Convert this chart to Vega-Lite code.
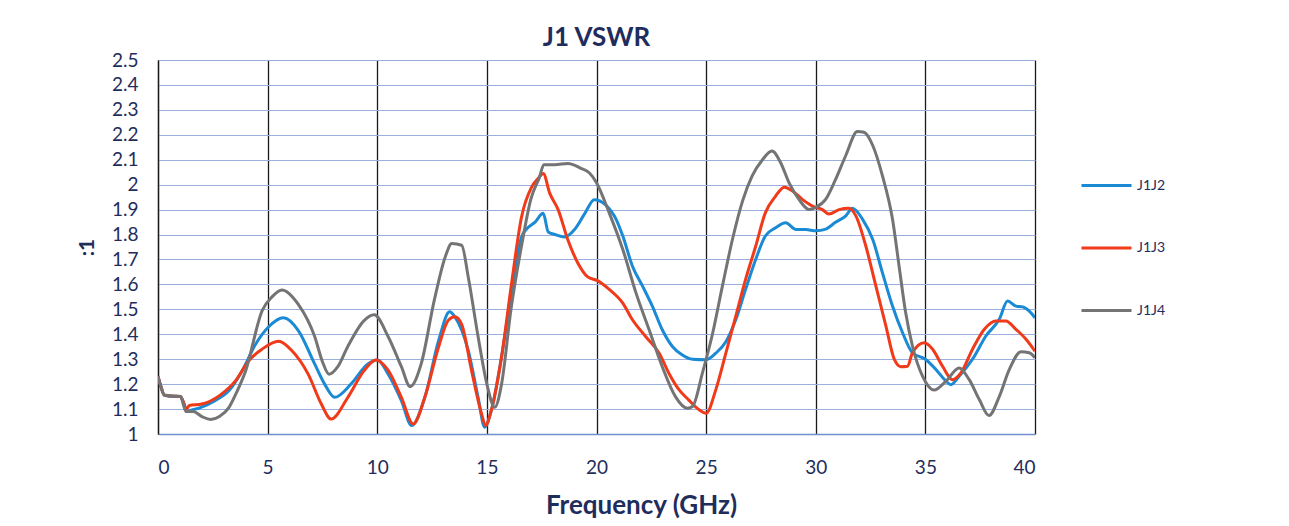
{
  "$schema": "https://vega.github.io/schema/vega-lite/v6.json",
  "width": 877,
  "height": 374,
  "autosize": {"type": "none"},
  "padding": {"left": 158, "top": 60, "right": 254, "bottom": 92},
  "background": "white",
  "title": {"text": "J1 VSWR", "fontSize": 26, "font": "Lato", "fontWeight": "bold", "color": "#1f2d5c", "offset": 0},
  "config": {
    "view": {"stroke": null},
    "font": "Lato"
  },
  "data": {"values": [
    {"f":0,"v":1.23,"s":"J1J2"},{"f":0.1,"v":1.2,"s":"J1J2"},{"f":0.3,"v":1.155,"s":"J1J2"},{"f":0.7,"v":1.15,"s":"J1J2"},{"f":1.0,"v":1.15,"s":"J1J2"},{"f":1.15,"v":1.13,"s":"J1J2"},{"f":1.3,"v":1.09,"s":"J1J2"},{"f":1.5,"v":1.095,"s":"J1J2"},{"f":1.9,"v":1.105,"s":"J1J2"},{"f":2.6,"v":1.134,"s":"J1J2"},{"f":3.24,"v":1.174,"s":"J1J2"},{"f":3.84,"v":1.254,"s":"J1J2"},{"f":4.45,"v":1.36,"s":"J1J2"},{"f":5.05,"v":1.43,"s":"J1J2"},{"f":5.72,"v":1.466,"s":"J1J2"},{"f":6.4,"v":1.415,"s":"J1J2"},{"f":7.15,"v":1.28,"s":"J1J2"},{"f":7.6,"v":1.2,"s":"J1J2"},{"f":8.06,"v":1.147,"s":"J1J2"},{"f":8.8,"v":1.2,"s":"J1J2"},{"f":9.56,"v":1.28,"s":"J1J2"},{"f":10.0,"v":1.297,"s":"J1J2"},{"f":10.5,"v":1.24,"s":"J1J2"},{"f":11.1,"v":1.134,"s":"J1J2"},{"f":11.57,"v":1.034,"s":"J1J2"},{"f":12.17,"v":1.147,"s":"J1J2"},{"f":12.8,"v":1.375,"s":"J1J2"},{"f":13.3,"v":1.49,"s":"J1J2"},{"f":13.54,"v":1.47,"s":"J1J2"},{"f":14.15,"v":1.335,"s":"J1J2"},{"f":14.6,"v":1.147,"s":"J1J2"},{"f":14.9,"v":1.027,"s":"J1J2"},{"f":15.2,"v":1.094,"s":"J1J2"},{"f":15.67,"v":1.31,"s":"J1J2"},{"f":16.12,"v":1.57,"s":"J1J2"},{"f":16.58,"v":1.79,"s":"J1J2"},{"f":16.9,"v":1.83,"s":"J1J2"},{"f":17.2,"v":1.85,"s":"J1J2"},{"f":17.57,"v":1.885,"s":"J1J2"},{"f":17.8,"v":1.81,"s":"J1J2"},{"f":18.1,"v":1.8,"s":"J1J2"},{"f":18.55,"v":1.79,"s":"J1J2"},{"f":19.0,"v":1.82,"s":"J1J2"},{"f":19.47,"v":1.885,"s":"J1J2"},{"f":19.9,"v":1.94,"s":"J1J2"},{"f":20.4,"v":1.92,"s":"J1J2"},{"f":20.9,"v":1.86,"s":"J1J2"},{"f":21.2,"v":1.794,"s":"J1J2"},{"f":21.64,"v":1.673,"s":"J1J2"},{"f":22.1,"v":1.593,"s":"J1J2"},{"f":22.55,"v":1.512,"s":"J1J2"},{"f":23.0,"v":1.418,"s":"J1J2"},{"f":23.47,"v":1.35,"s":"J1J2"},{"f":23.9,"v":1.318,"s":"J1J2"},{"f":24.38,"v":1.3,"s":"J1J2"},{"f":25.0,"v":1.298,"s":"J1J2"},{"f":25.44,"v":1.324,"s":"J1J2"},{"f":25.9,"v":1.37,"s":"J1J2"},{"f":26.35,"v":1.458,"s":"J1J2"},{"f":26.8,"v":1.58,"s":"J1J2"},{"f":27.26,"v":1.7,"s":"J1J2"},{"f":27.7,"v":1.794,"s":"J1J2"},{"f":28.17,"v":1.827,"s":"J1J2"},{"f":28.63,"v":1.847,"s":"J1J2"},{"f":29.1,"v":1.82,"s":"J1J2"},{"f":29.55,"v":1.82,"s":"J1J2"},{"f":30.0,"v":1.815,"s":"J1J2"},{"f":30.46,"v":1.822,"s":"J1J2"},{"f":30.9,"v":1.849,"s":"J1J2"},{"f":31.37,"v":1.875,"s":"J1J2"},{"f":31.67,"v":1.905,"s":"J1J2"},{"f":32.13,"v":1.862,"s":"J1J2"},{"f":32.6,"v":1.78,"s":"J1J2"},{"f":33.04,"v":1.647,"s":"J1J2"},{"f":33.5,"v":1.513,"s":"J1J2"},{"f":33.96,"v":1.406,"s":"J1J2"},{"f":34.41,"v":1.326,"s":"J1J2"},{"f":35.0,"v":1.3,"s":"J1J2"},{"f":35.48,"v":1.259,"s":"J1J2"},{"f":35.94,"v":1.212,"s":"J1J2"},{"f":36.16,"v":1.198,"s":"J1J2"},{"f":36.54,"v":1.232,"s":"J1J2"},{"f":37.15,"v":1.3,"s":"J1J2"},{"f":37.76,"v":1.393,"s":"J1J2"},{"f":38.37,"v":1.46,"s":"J1J2"},{"f":38.75,"v":1.533,"s":"J1J2"},{"f":39.13,"v":1.513,"s":"J1J2"},{"f":39.44,"v":1.51,"s":"J1J2"},{"f":39.74,"v":1.493,"s":"J1J2"},{"f":40.0,"v":1.466,"s":"J1J2"},

    {"f":0,"v":1.23,"s":"J1J3"},{"f":0.1,"v":1.2,"s":"J1J3"},{"f":0.3,"v":1.155,"s":"J1J3"},{"f":1.0,"v":1.15,"s":"J1J3"},{"f":1.15,"v":1.13,"s":"J1J3"},{"f":1.3,"v":1.1,"s":"J1J3"},{"f":1.43,"v":1.114,"s":"J1J3"},{"f":2.0,"v":1.12,"s":"J1J3"},{"f":2.8,"v":1.154,"s":"J1J3"},{"f":3.54,"v":1.214,"s":"J1J3"},{"f":4.14,"v":1.294,"s":"J1J3"},{"f":4.74,"v":1.34,"s":"J1J3"},{"f":5.5,"v":1.372,"s":"J1J3"},{"f":6.1,"v":1.335,"s":"J1J3"},{"f":6.85,"v":1.24,"s":"J1J3"},{"f":7.45,"v":1.12,"s":"J1J3"},{"f":7.9,"v":1.06,"s":"J1J3"},{"f":8.66,"v":1.147,"s":"J1J3"},{"f":9.4,"v":1.254,"s":"J1J3"},{"f":9.94,"v":1.297,"s":"J1J3"},{"f":10.5,"v":1.255,"s":"J1J3"},{"f":11.1,"v":1.147,"s":"J1J3"},{"f":11.64,"v":1.04,"s":"J1J3"},{"f":12.17,"v":1.147,"s":"J1J3"},{"f":12.8,"v":1.35,"s":"J1J3"},{"f":13.24,"v":1.456,"s":"J1J3"},{"f":13.54,"v":1.47,"s":"J1J3"},{"f":13.85,"v":1.44,"s":"J1J3"},{"f":14.3,"v":1.255,"s":"J1J3"},{"f":14.76,"v":1.08,"s":"J1J3"},{"f":14.94,"v":1.034,"s":"J1J3"},{"f":15.2,"v":1.094,"s":"J1J3"},{"f":15.67,"v":1.31,"s":"J1J3"},{"f":16.12,"v":1.6,"s":"J1J3"},{"f":16.58,"v":1.87,"s":"J1J3"},{"f":17.04,"v":1.99,"s":"J1J3"},{"f":17.34,"v":2.025,"s":"J1J3"},{"f":17.57,"v":2.045,"s":"J1J3"},{"f":17.87,"v":1.965,"s":"J1J3"},{"f":18.25,"v":1.9,"s":"J1J3"},{"f":18.7,"v":1.777,"s":"J1J3"},{"f":19.16,"v":1.684,"s":"J1J3"},{"f":19.6,"v":1.63,"s":"J1J3"},{"f":20.05,"v":1.615,"s":"J1J3"},{"f":20.58,"v":1.58,"s":"J1J3"},{"f":21.2,"v":1.525,"s":"J1J3"},{"f":21.64,"v":1.458,"s":"J1J3"},{"f":22.25,"v":1.39,"s":"J1J3"},{"f":22.86,"v":1.324,"s":"J1J3"},{"f":23.3,"v":1.244,"s":"J1J3"},{"f":23.77,"v":1.177,"s":"J1J3"},{"f":24.2,"v":1.137,"s":"J1J3"},{"f":24.68,"v":1.097,"s":"J1J3"},{"f":25.0,"v":1.083,"s":"J1J3"},{"f":25.44,"v":1.177,"s":"J1J3"},{"f":25.9,"v":1.324,"s":"J1J3"},{"f":26.35,"v":1.472,"s":"J1J3"},{"f":26.8,"v":1.62,"s":"J1J3"},{"f":27.26,"v":1.753,"s":"J1J3"},{"f":27.7,"v":1.887,"s":"J1J3"},{"f":28.17,"v":1.954,"s":"J1J3"},{"f":28.56,"v":1.99,"s":"J1J3"},{"f":28.94,"v":1.975,"s":"J1J3"},{"f":29.4,"v":1.94,"s":"J1J3"},{"f":29.85,"v":1.914,"s":"J1J3"},{"f":30.3,"v":1.9,"s":"J1J3"},{"f":30.6,"v":1.882,"s":"J1J3"},{"f":31.07,"v":1.9,"s":"J1J3"},{"f":31.5,"v":1.905,"s":"J1J3"},{"f":31.83,"v":1.875,"s":"J1J3"},{"f":32.28,"v":1.755,"s":"J1J3"},{"f":32.74,"v":1.594,"s":"J1J3"},{"f":33.2,"v":1.433,"s":"J1J3"},{"f":33.58,"v":1.3,"s":"J1J3"},{"f":33.88,"v":1.27,"s":"J1J3"},{"f":34.19,"v":1.272,"s":"J1J3"},{"f":34.41,"v":1.326,"s":"J1J3"},{"f":34.95,"v":1.366,"s":"J1J3"},{"f":35.33,"v":1.34,"s":"J1J3"},{"f":35.78,"v":1.272,"s":"J1J3"},{"f":36.24,"v":1.218,"s":"J1J3"},{"f":36.62,"v":1.245,"s":"J1J3"},{"f":37.15,"v":1.34,"s":"J1J3"},{"f":37.69,"v":1.42,"s":"J1J3"},{"f":38.22,"v":1.453,"s":"J1J3"},{"f":38.67,"v":1.453,"s":"J1J3"},{"f":39.13,"v":1.42,"s":"J1J3"},{"f":39.59,"v":1.38,"s":"J1J3"},{"f":40.0,"v":1.332,"s":"J1J3"},

    {"f":0,"v":1.23,"s":"J1J4"},{"f":0.1,"v":1.2,"s":"J1J4"},{"f":0.3,"v":1.155,"s":"J1J4"},{"f":1.05,"v":1.15,"s":"J1J4"},{"f":1.15,"v":1.12,"s":"J1J4"},{"f":1.28,"v":1.09,"s":"J1J4"},{"f":1.6,"v":1.09,"s":"J1J4"},{"f":2.0,"v":1.07,"s":"J1J4"},{"f":2.4,"v":1.058,"s":"J1J4"},{"f":2.8,"v":1.07,"s":"J1J4"},{"f":3.24,"v":1.107,"s":"J1J4"},{"f":3.6,"v":1.17,"s":"J1J4"},{"f":4.0,"v":1.254,"s":"J1J4"},{"f":4.75,"v":1.495,"s":"J1J4"},{"f":5.2,"v":1.55,"s":"J1J4"},{"f":5.65,"v":1.578,"s":"J1J4"},{"f":6.4,"v":1.52,"s":"J1J4"},{"f":7.15,"v":1.39,"s":"J1J4"},{"f":7.5,"v":1.29,"s":"J1J4"},{"f":7.8,"v":1.24,"s":"J1J4"},{"f":8.2,"v":1.27,"s":"J1J4"},{"f":8.65,"v":1.35,"s":"J1J4"},{"f":9.4,"v":1.455,"s":"J1J4"},{"f":9.86,"v":1.478,"s":"J1J4"},{"f":10.5,"v":1.39,"s":"J1J4"},{"f":11.1,"v":1.27,"s":"J1J4"},{"f":11.5,"v":1.19,"s":"J1J4"},{"f":12.0,"v":1.28,"s":"J1J4"},{"f":12.6,"v":1.536,"s":"J1J4"},{"f":13.1,"v":1.71,"s":"J1J4"},{"f":13.4,"v":1.764,"s":"J1J4"},{"f":13.85,"v":1.757,"s":"J1J4"},{"f":14.15,"v":1.63,"s":"J1J4"},{"f":14.6,"v":1.39,"s":"J1J4"},{"f":15.0,"v":1.2,"s":"J1J4"},{"f":15.36,"v":1.107,"s":"J1J4"},{"f":15.67,"v":1.2,"s":"J1J4"},{"f":16.1,"v":1.5,"s":"J1J4"},{"f":16.6,"v":1.764,"s":"J1J4"},{"f":17.0,"v":1.94,"s":"J1J4"},{"f":17.4,"v":2.03,"s":"J1J4"},{"f":17.6,"v":2.08,"s":"J1J4"},{"f":18.1,"v":2.08,"s":"J1J4"},{"f":18.7,"v":2.085,"s":"J1J4"},{"f":19.3,"v":2.065,"s":"J1J4"},{"f":19.67,"v":2.048,"s":"J1J4"},{"f":20.0,"v":2.008,"s":"J1J4"},{"f":20.58,"v":1.887,"s":"J1J4"},{"f":21.2,"v":1.74,"s":"J1J4"},{"f":21.8,"v":1.566,"s":"J1J4"},{"f":22.4,"v":1.418,"s":"J1J4"},{"f":23.0,"v":1.27,"s":"J1J4"},{"f":23.6,"v":1.15,"s":"J1J4"},{"f":24.15,"v":1.103,"s":"J1J4"},{"f":24.38,"v":1.11,"s":"J1J4"},{"f":24.83,"v":1.244,"s":"J1J4"},{"f":25.3,"v":1.405,"s":"J1J4"},{"f":25.74,"v":1.592,"s":"J1J4"},{"f":26.2,"v":1.78,"s":"J1J4"},{"f":26.66,"v":1.934,"s":"J1J4"},{"f":27.1,"v":2.035,"s":"J1J4"},{"f":27.57,"v":2.1,"s":"J1J4"},{"f":28.0,"v":2.135,"s":"J1J4"},{"f":28.4,"v":2.088,"s":"J1J4"},{"f":28.78,"v":2.008,"s":"J1J4"},{"f":29.24,"v":1.94,"s":"J1J4"},{"f":29.7,"v":1.9,"s":"J1J4"},{"f":30.0,"v":1.909,"s":"J1J4"},{"f":30.46,"v":1.942,"s":"J1J4"},{"f":30.9,"v":2.02,"s":"J1J4"},{"f":31.37,"v":2.117,"s":"J1J4"},{"f":31.9,"v":2.213,"s":"J1J4"},{"f":32.2,"v":2.21,"s":"J1J4"},{"f":32.6,"v":2.157,"s":"J1J4"},{"f":33.04,"v":2.036,"s":"J1J4"},{"f":33.5,"v":1.862,"s":"J1J4"},{"f":33.8,"v":1.674,"s":"J1J4"},{"f":34.1,"v":1.487,"s":"J1J4"},{"f":34.41,"v":1.353,"s":"J1J4"},{"f":34.87,"v":1.232,"s":"J1J4"},{"f":35.4,"v":1.176,"s":"J1J4"},{"f":35.94,"v":1.212,"s":"J1J4"},{"f":36.54,"v":1.265,"s":"J1J4"},{"f":37.0,"v":1.218,"s":"J1J4"},{"f":37.46,"v":1.138,"s":"J1J4"},{"f":37.9,"v":1.074,"s":"J1J4"},{"f":38.37,"v":1.15,"s":"J1J4"},{"f":38.83,"v":1.259,"s":"J1J4"},{"f":39.36,"v":1.33,"s":"J1J4"},{"f":39.74,"v":1.326,"s":"J1J4"},{"f":40.0,"v":1.306,"s":"J1J4"}
  ]},
  "mark": {"type": "line", "strokeWidth": 3, "interpolate": "monotone", "clip": true},
  "encoding": {
    "x": {
      "field": "f", "type": "quantitative",
      "scale": {"domain": [0, 40], "nice": false, "zero": false},
      "axis": {
        "values": [0,5,10,15,20,25,30,35,40],
        "title": "Frequency (GHz)",
        "titleFont": "Lato", "titleFontSize": 26, "titleFontWeight": "bold", "titleColor": "#1f2d5c", "titlePadding": 15,
        "titleX": 483,
        "labelFont": "Lato", "labelFontSize": 19, "labelColor": "#1f2d5c", "labelPadding": 24,
        "ticks": false,
        "domainColor": "#6f8fcf", "domainWidth": 1.5,
        "grid": true, "gridColor": "#1a1a1a", "gridWidth": 1.3
      }
    },
    "y": {
      "field": "v", "type": "quantitative",
      "scale": {"domain": [1, 2.5], "nice": false, "zero": false},
      "axis": {
        "values": [1,1.1,1.2,1.3,1.4,1.5,1.6,1.7,1.8,1.9,2,2.1,2.2,2.3,2.4,2.5],
        "format": ".2~f",
        "title": ":1",
        "titleFont": "Lato", "titleFontSize": 21, "titleFontWeight": "bold", "titleColor": "#1f2d5c", "titlePadding": 14,
        "labelFont": "Lato", "labelFontSize": 19, "labelColor": "#1f2d5c", "labelPadding": 20,
        "ticks": false,
        "domainColor": "#1a1a1a", "domainWidth": 1.3,
        "grid": true, "gridColor": "#9aafdc", "gridWidth": 1.2
      }
    },
    "color": {
      "field": "s", "type": "nominal",
      "scale": {"domain": ["J1J2", "J1J3", "J1J4"], "range": ["#1a8ad4", "#f03a1a", "#747474"]},
      "legend": {
        "title": null, "orient": "none", "legendX": 922, "legendY": 99,
        "symbolType": "stroke", "symbolSize": 2500, "symbolStrokeWidth": 3,
        "labelFont": "Lato", "labelFontSize": 14, "labelColor": "#1f2d5c", "labelOffset": 4,
        "rowPadding": 28.5
      }
    }
  }
}
